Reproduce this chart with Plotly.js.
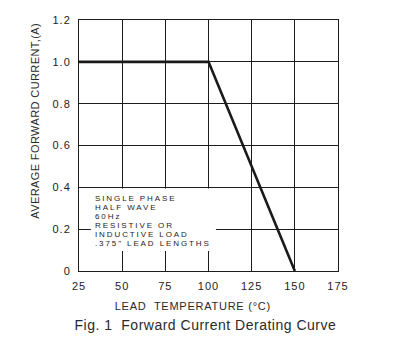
<!DOCTYPE html>
<html>
<head>
<meta charset="utf-8">
<script src="https://cdn.plot.ly/plotly-3.0.1.min.js"></script>
<style>
  html, body { margin: 0; padding: 0; background: #fff; }
  #chart { width: 407px; height: 358px; }
  .xtick text, .ytick text { letter-spacing: 1px; }
  g.annotation[data-index="0"] text { letter-spacing: 0.4px; }
  g.annotation[data-index="1"] text { letter-spacing: 0.75px; }
  g.annotation[data-index="2"] text { letter-spacing: 0.5px; }
  g.annotation[data-index="3"] text,
  g.annotation[data-index="4"] text,
  g.annotation[data-index="5"] text,
  g.annotation[data-index="6"] text,
  g.annotation[data-index="7"] text,
  g.annotation[data-index="8"] text { letter-spacing: 1.9px; }
</style>
</head>
<body>
<div id="chart"></div>
<script>
// Data
const leadTemp = [25, 100, 150];          // °C
const avgCurrent = [1.0, 1.0, 0];         // A
const xTickVals = [25, 50, 75, 100, 125, 150, 175];
const xTickText = ['25', '50', '75', '100', '125', '150', '175'];
const yTickVals = [0, 0.2, 0.4, 0.6, 0.8, 1.0, 1.2];
const yTickText = ['0', '0.2', '0.4', '0.6', '0.8', '1.0', '1.2'];
const noteLines = ['SINGLE PHASE', 'HALF WAVE', '60Hz', 'RESISTIVE OR', 'INDUCTIVE LOAD', '.375" LEAD LENGTHS'];
const xTitle = 'LEAD  TEMPERATURE (°C)';
const yTitle = 'AVERAGE FORWARD CURRENT,(A)';
const caption = 'Fig. 1  Forward Current Derating Curve';

const FONT = 'Arial, "Liberation Sans", Helvetica, sans-serif';
const INK = '#1c1c1c';

const annotations = [
  { text: yTitle, xref: 'paper', yref: 'paper', x: -0.17, y: 0.6, textangle: -90,
    showarrow: false, xanchor: 'center', yanchor: 'middle',
    font: { family: FONT, size: 11, color: '#2a2a2a' } },
  { text: xTitle, xref: 'paper', yref: 'paper', x: 0.44, y: -0.138,
    showarrow: false, xanchor: 'center', yanchor: 'middle',
    font: { family: FONT, size: 11, color: '#2a2a2a' } },
  { text: caption, xref: 'paper', yref: 'paper', x: 0.487, y: -0.216,
    showarrow: false, xanchor: 'center', yanchor: 'middle',
    font: { family: FONT, size: 14, color: '#2a2a2a' } }
];
// note block lines
const noteTop = 0.289, noteStep = 0.036;
noteLines.forEach((t, i) => {
  annotations.push({ text: t, xref: 'paper', yref: 'paper', x: 0.056, y: noteTop - i * noteStep,
    showarrow: false, xanchor: 'left', yanchor: 'middle', align: 'left', borderpad: 0,
    font: { family: FONT, size: 8, color: INK } });
});

const trace = {
  x: leadTemp, y: avgCurrent, type: 'scatter', mode: 'lines',
  line: { color: '#1a1a1a', width: 2.6 }, hoverinfo: 'skip'
};

const axisCommon = {
  showgrid: true, gridcolor: INK, gridwidth: 1,
  zeroline: false, showline: true, mirror: true, linecolor: INK, linewidth: 1,
  ticks: '', tickfont: { family: FONT, size: 11, color: INK }, fixedrange: true
};

const layout = {
  width: 407, height: 358,
  margin: { l: 79, r: 69, t: 20, b: 87 },
  paper_bgcolor: '#fff', plot_bgcolor: '#fff',
  showlegend: false,
  xaxis: Object.assign({}, axisCommon, {
    range: [25, 175], tickmode: 'array', tickvals: xTickVals, ticktext: xTickText,
    ticklabelstandoff: 5
  }),
  yaxis: Object.assign({}, axisCommon, {
    range: [0, 1.2], tickmode: 'array', tickvals: yTickVals, ticktext: yTickText,
    ticklabelstandoff: 5
  }),
  shapes: [{
    type: 'rect', xref: 'x', yref: 'y', x0: 31.9, x1: 104.3, y0: 0.096, y1: 0.395,
    fillcolor: '#fff', line: { width: 0 }, layer: 'between'
  }],
  annotations: annotations
};

Plotly.newPlot('chart', [trace], layout, { displayModeBar: false, staticPlot: true });
</script>
</body>
</html>
